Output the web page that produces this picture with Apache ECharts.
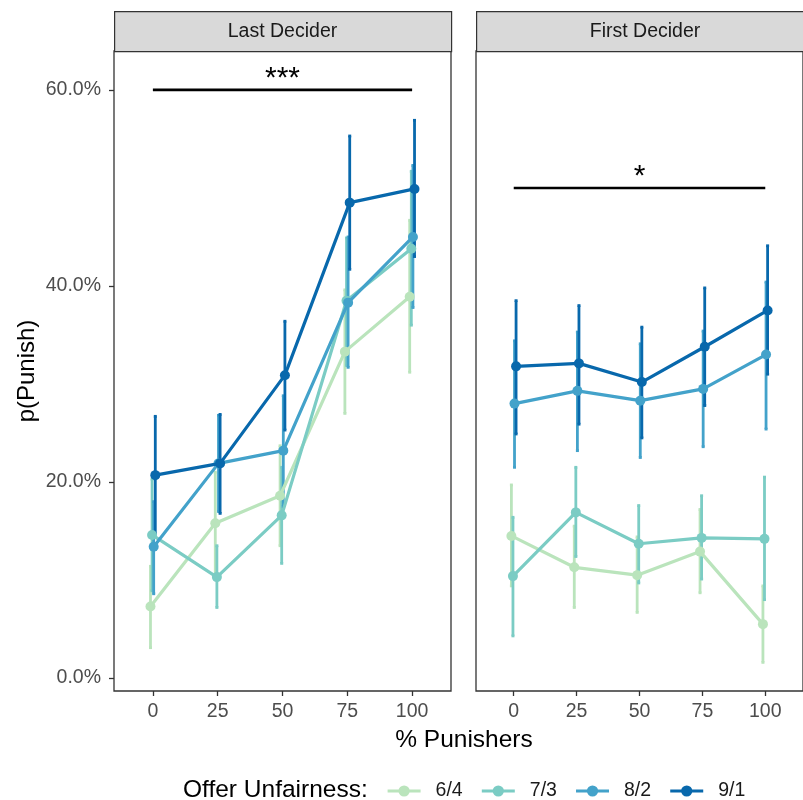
<!DOCTYPE html>
<html><head><meta charset="utf-8">
<script src="https://cdn.jsdelivr.net/npm/echarts@6/dist/echarts.min.js"></script>
<style>html,body{margin:0;padding:0;background:#fff}#c{width:803px;height:800px}</style>
</head><body><div id="c"></div>
<script>
// ---------- data ----------
const punishers = [0, 25, 50, 75, 100];
const groups = ['6/4', '7/3', '8/2', '9/1'];
const panels = ['Last Decider', 'First Decider'];
const xTicks = [0, 25, 50, 75, 100];
const yTicks = [0, 0.2, 0.4, 0.6];

// Last Decider (percent)
const last_64_mean = [7.3, 15.8, 18.6, 33.3, 38.9];
const last_64_lo   = [3.1, 10.6, 13.5, 27.0, 31.2];
const last_64_hi   = [11.4, 21.0, 23.7, 39.6, 46.7];
const last_73_mean = [14.6, 10.3, 16.6, 38.5, 43.8];
const last_73_lo   = [8.9, 7.2, 11.7, 31.9, 36.0];
const last_73_hi   = [20.3, 13.5, 21.5, 44.9, 51.7];
const last_82_mean = [13.4, 21.9, 23.2, 38.3, 45.0];
const last_82_lo   = [8.6, 17.0, 17.5, 31.7, 37.8];
const last_82_hi   = [18.0, 26.8, 28.8, 45.0, 52.3];
const last_91_mean = [20.7, 21.9, 30.9, 48.5, 49.9];
const last_91_lo   = [14.7, 16.8, 25.3, 41.7, 43.0];
const last_91_hi   = [26.7, 26.9, 36.4, 55.3, 56.9];

// First Decider (percent)
const first_64_mean = [14.5, 11.3, 10.5, 12.9, 5.5];
const first_64_lo   = [9.4, 7.2, 6.7, 8.7, 1.6];
const first_64_hi   = [19.7, 15.5, 14.4, 17.2, 9.4];
const first_73_mean = [10.4, 16.9, 13.7, 14.3, 14.2];
const first_73_lo   = [4.3, 12.4, 9.7, 10.1, 8.0];
const first_73_hi   = [16.4, 21.5, 17.6, 18.6, 20.5];
const first_82_mean = [28.0, 29.3, 28.3, 29.5, 33.0];
const first_82_lo   = [21.5, 23.2, 22.5, 23.6, 25.4];
const first_82_hi   = [34.4, 35.3, 34.1, 35.4, 40.4];
const first_91_mean = [31.8, 32.1, 30.2, 33.8, 37.5];
const first_91_lo   = [24.9, 25.9, 24.5, 27.8, 31.0];
const first_91_hi   = [38.5, 38.0, 35.8, 39.8, 44.1];

// significance bars: [from, to, y (percent), label]
const sigLast  = [0, 100, 60, '***'];
const sigFirst = [0, 100, 50, '*'];

// ---------- styling ----------
const colors = ['#bae4bc', '#7bccc4', '#43a2ca', '#0868ac'];
const dodge = [-0.93, -0.31, 0.31, 0.93];
const FONT = '"Liberation Sans", Arial, Helvetica, sans-serif';

const panelData = [
  [[last_64_mean, last_64_lo, last_64_hi], [last_73_mean, last_73_lo, last_73_hi],
   [last_82_mean, last_82_lo, last_82_hi], [last_91_mean, last_91_lo, last_91_hi]],
  [[first_64_mean, first_64_lo, first_64_hi], [first_73_mean, first_73_lo, first_73_hi],
   [first_82_mean, first_82_lo, first_82_hi], [first_91_mean, first_91_lo, first_91_hi]]
];
const sigs = [sigLast, sigFirst];

const grids = [
  {left: 114, top: 51, width: 337, height: 640},
  {left: 476, top: 51, width: 338, height: 640}
];

const series = [];
// lines + points
panelData.forEach((pd, p) => {
  pd.forEach((g, gi) => {
    series.push({
      name: groups[gi], type: 'line', xAxisIndex: p, yAxisIndex: p,
      data: punishers.map((x, i) => [x + dodge[gi], g[0][i] / 100]),
      symbol: 'circle', symbolSize: 10, showSymbol: true,
      lineStyle: {color: colors[gi], width: 3.2},
      itemStyle: {color: colors[gi]},
      z: 3 + gi * 0.01, animation: false, silent: true
    });
  });
});
// error bars
panelData.forEach((pd, p) => {
  pd.forEach((g, gi) => {
    const col = colors[gi];
    series.push({
      name: groups[gi], type: 'custom', xAxisIndex: p, yAxisIndex: p,
      data: punishers.map((x, i) => [x + dodge[gi], g[1][i] / 100, g[2][i] / 100]),
      renderItem: function (params, api) {
        const x = api.value(0), lo = api.value(1), hi = api.value(2);
        const a = api.coord([x, lo]), b = api.coord([x, hi]);
        const c = 1.5, st = {stroke: col, lineWidth: 2.8};
        return {type: 'group', children: [
          {type: 'line', shape: {x1: a[0], y1: a[1], x2: b[0], y2: b[1]}, style: st},
          {type: 'line', shape: {x1: a[0] - c, y1: a[1], x2: a[0] + c, y2: a[1]}, style: st},
          {type: 'line', shape: {x1: b[0] - c, y1: b[1], x2: b[0] + c, y2: b[1]}, style: st}
        ]};
      },
      z: 2 + gi * 0.01, animation: false, silent: true
    });
  });
});
// significance bars
sigs.forEach((s, p) => {
  series.push({
    type: 'custom', xAxisIndex: p, yAxisIndex: p,
    data: [[s[0], s[1], s[2] / 100, s[3]]],
    renderItem: function (params, api) {
      const a = api.coord([api.value(0), api.value(2)]);
      const b = api.coord([api.value(1), api.value(2)]);
      return {type: 'group', children: [
        {type: 'line', shape: {x1: a[0], y1: a[1], x2: b[0], y2: b[1]},
         style: {stroke: '#000', lineWidth: 2.6}},
        {type: 'text', x: (a[0] + b[0]) / 2, y: a[1] - 11,
         style: {text: s[3], fontSize: 30, fontFamily: FONT, fill: '#000',
                 align: 'center', verticalAlign: 'middle'}}
      ]};
    },
    z: 4, animation: false, silent: true
  });
});

const xAxes = grids.map((g, p) => ({
  type: 'value', gridIndex: p, min: -15, max: 115, position: 'bottom',
  axisLine: {show: false, onZero: false}, splitLine: {show: false},
  axisTick: {show: true, customValues: xTicks, length: 5, lineStyle: {color: '#333', width: 1.3}},
  axisLabel: {show: true, customValues: xTicks, fontSize: 19.5, color: '#4d4d4d',
              fontFamily: FONT, margin: 11}
}));
const yAxes = grids.map((g, p) => ({
  type: 'value', gridIndex: p, min: -0.0132, max: 0.6397, position: 'left',
  axisLine: {show: false, onZero: false}, splitLine: {show: false},
  axisTick: {show: p === 0, customValues: yTicks, length: 5, lineStyle: {color: '#333', width: 1.3}},
  axisLabel: {show: p === 0, customValues: yTicks, fontSize: 19.5, color: '#4d4d4d',
              fontFamily: FONT, margin: 13,
              formatter: v => (v * 100).toFixed(1) + '%'}
}));

const graphics = [];
grids.forEach((g, p) => {
  graphics.push({type: 'rect', left: g.left, top: 11,
    shape: {x: 0, y: 0, width: g.width, height: 40},
    style: {fill: '#d9d9d9', stroke: '#333', lineWidth: 1.2}, z: 10});
  graphics.push({type: 'text', x: g.left + g.width / 2, y: 32,
    style: {text: panels[p], fontSize: 19.5, fontFamily: FONT, fill: '#1a1a1a',
            align: 'center', verticalAlign: 'middle'}, z: 11});
});
graphics.push({type: 'text', x: 27, y: 371, rotation: Math.PI / 2,
  style: {text: 'p(Punish)', fontSize: 24, fontFamily: FONT, fill: '#000',
          align: 'center', verticalAlign: 'middle'}});
graphics.push({type: 'text', x: 464, y: 740,
  style: {text: '% Punishers', fontSize: 24.5, fontFamily: FONT, fill: '#000',
          align: 'center', verticalAlign: 'middle'}});
graphics.push({type: 'text', x: 183, y: 790,
  style: {text: 'Offer Unfairness:', fontSize: 24.5, fontFamily: FONT, fill: '#000',
          align: 'left', verticalAlign: 'middle'}});

const chart = echarts.init(document.getElementById('c'), null, {renderer: 'canvas'});
chart.setOption({
  backgroundColor: '#fff',
  animation: false,
  grid: grids.map(g => Object.assign({show: true, borderColor: '#333', borderWidth: 1.3,
                                       backgroundColor: 'transparent'}, g)),
  xAxis: xAxes,
  yAxis: yAxes,
  legend: {
    data: groups, left: 386, top: 781, padding: 0, itemWidth: 33, itemHeight: 14, itemGap: 17.5,
    selectedMode: false,
    lineStyle: {width: 3.2},
    textStyle: {fontSize: 19.5, color: '#1a1a1a', fontFamily: FONT, padding: [0, 0, 0, 10]}
  },
  graphic: graphics,
  series: series
});
</script>
</body></html>
